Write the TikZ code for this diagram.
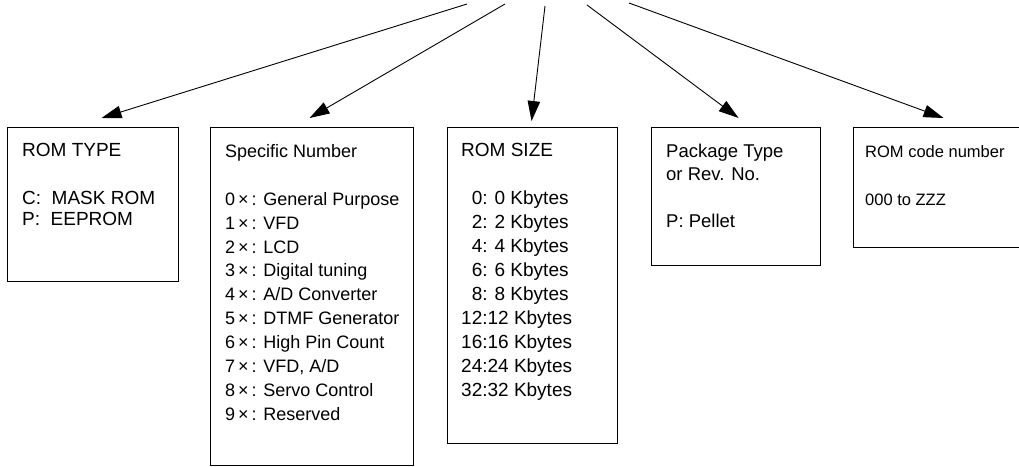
\documentclass[tikz,border=0pt]{standalone}
\usepackage{fontspec}
\setmainfont{Liberation Sans}
\usetikzlibrary{arrows.meta}
\tikzset{
  box/.style={draw,line width=1.1pt,anchor=north west,inner sep=0pt},
  txt/.style={anchor=north west,align=left,inner sep=0pt,font=\fontsize{18}{23.9}\selectfont},
  arr/.style={->,>={Triangle[length=20pt,width=12.5pt]},line width=0.9pt}
}
\begin{document}
\begin{tikzpicture}[x=1pt,y=-1pt]
			\useasboundingbox (0,0) rectangle (1019,466);
			% boxes
			\node[box,minimum width=171pt,minimum height=154pt] (type) at (7,127) {};
			\node[box,minimum width=203pt,minimum height=338pt] (spec) at (210,127) {};
			\node[box,minimum width=170pt,minimum height=316pt] (size) at (447,127) {};
			\node[box,minimum width=169pt,minimum height=138pt] (pkg) at (651,127) {};
			\node[box,minimum width=180pt,minimum height=120pt] (code) at (853,127) {};
			% texts
			\node[txt,font=\fontsize{19}{21}\selectfont] (typetxt) at (22,143.5) {ROM TYPE\\[27pt]C:\ \ MASK ROM\\P:\ \ EEPROM};
			\node[txt] (spectxt) at (225,144) {Specific Number\\[24.1pt]
				0\,×\,: General Purpose\\
				1\,×\,: VFD\\
				2\,×\,: LCD\\
				3\,×\,: Digital tuning\\
				4\,×\,: A/D Converter\\
				5\,×\,: DTMF Generator\\
				6\,×\,: High Pin Count\\
				7\,×\,: VFD, A/D\\
				8\,×\,: Servo Control\\
				9\,×\,: Reserved};
			\node[txt,font=\fontsize{19}{23.9}\selectfont] (sizetxt) at (461,143.5) {ROM SIZE\\[24.1pt]
				\phantom{1}0: 0 Kbytes\\
				\phantom{1}2: 2 Kbytes\\
				\phantom{1}4: 4 Kbytes\\
				\phantom{1}6: 6 Kbytes\\
				\phantom{1}8: 8 Kbytes\\
				12:12 Kbytes\\
				16:16 Kbytes\\
				24:24 Kbytes\\
				32:32 Kbytes};
			\node[txt,font=\fontsize{18.5}{23}\selectfont] (pkgtxt) at (666,143.5) {Package Type\\or Rev. No.\\[24pt]P: Pellet};
			\node[txt,font=\fontsize{16.5}{48}\selectfont] (codetxt) at (865,145) {ROM code number\\000 to ZZZ};
			% arrows
			\coordinate (src1) at (467,4);
			\coordinate (src2) at (505,4);
			\coordinate (src3) at (545,6);
			\coordinate (src4) at (587,5);
			\coordinate (src5) at (629,3);
			\draw[arr] (src1) -- ([xshift=8.5pt,yshift=9pt]type.north);
			\draw[arr] (src2) -- ([xshift=-2.5pt,yshift=9pt]spec.north);
			\draw[arr] (src3) -- ([xshift=-1pt,yshift=6pt]size.north);
			\draw[arr] (src4) -- ([xshift=2.5pt,yshift=9pt]pkg.north);
			\draw[arr] (src5) -- ([xshift=0pt,yshift=9pt]code.north);
		\end{tikzpicture}
\end{document}
